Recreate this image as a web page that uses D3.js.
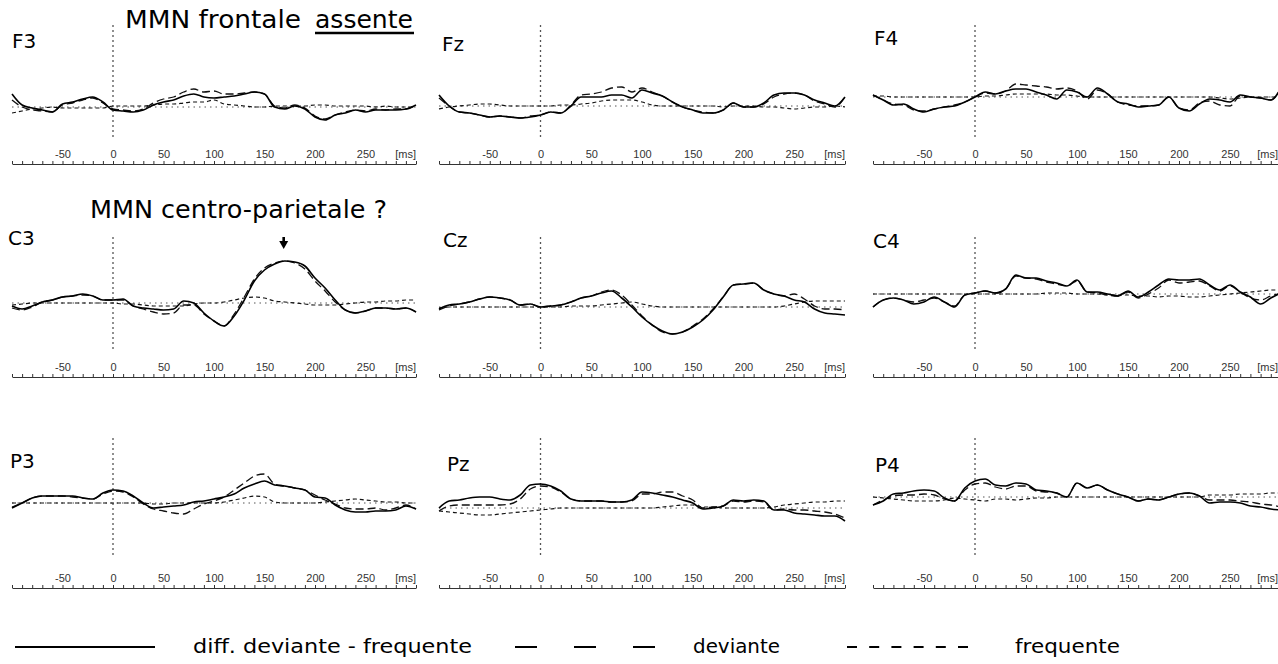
<!DOCTYPE html>
<html>
<head>
<meta charset="utf-8">
<script src="https://cdn.jsdelivr.net/npm/d3@7/dist/d3.min.js"></script>
<style>
  body { margin: 0; background: #fff; }
  .hand { font-family: "Comic Sans MS", "DejaVu Sans", sans-serif; fill: #000; }
  .axis text, .unit { font-family: "Liberation Sans", Arial, sans-serif; font-size: 11px; fill: #333; }
  .axis path, .axis line { stroke: #333; }
</style>
</head>
<body>
<svg id="chart" width="1278" height="664"></svg>
<script>
// sample times in ms
var times = [-100, -90, -80, -70, -60, -50, -40, -30, -20, -10, 0, 10, 20, 30, 40, 50, 60, 70, 80, 90, 100,
  110, 120, 130, 140, 150, 160, 170, 180, 190, 200, 210, 220, 230, 240, 250, 260, 270, 280, 290, 300];

var electrodes = ["F3", "Fz", "F4", "C3", "Cz", "C4", "P3", "Pz", "P4"];
var tickLabels = [-50, 0, 50, 100, 150, 200, 250];
var legendLabels = ["diff. deviante - frequente", "deviante", "frequente"];

// amplitudes (uV, positive up)
var f3Diff = [1.3, 0.2, -0.1, -0.3, -0.5, 0.3, 0.5, 0.8, 1.0, 0.5, -0.3, -0.4, -0.5, -0.3, 0.2, 0.5, 0.7, 1.1, 1.3, 1.0, 0.9, 1.0, 1.1, 1.3, 1.5, 1.3, 0.0, -0.2, 0.1, -0.2, -1.0, -1.3, -0.8, -0.6, -0.3, -0.5, -0.3, -0.3, -0.3, -0.2, 0.2];
var f3Dev = [0.7, 0.0, -0.3, -0.4, -0.5, 0.2, 0.4, 0.7, 0.9, 0.4, -0.2, -0.3, -0.4, -0.2, 0.4, 0.8, 1.0, 1.5, 1.8, 1.5, 1.6, 1.3, 1.3, 1.4, 1.5, 1.3, 0.1, -0.1, 0.2, -0.1, -0.9, -1.2, -0.8, -0.5, -0.3, -0.4, -0.2, -0.3, -0.2, -0.2, 0.2];
var f3Freq = [-0.6, -0.4, -0.2, -0.1, 0.0, -0.1, -0.1, -0.1, -0.1, -0.1, 0.1, 0.1, 0.1, 0.1, 0.2, 0.3, 0.3, 0.4, 0.5, 0.5, 0.7, 0.3, 0.2, 0.1, 0.0, 0.0, 0.1, 0.1, 0.1, 0.1, 0.2, 0.2, 0.1, 0.1, 0.1, 0.1, 0.0, 0.1, 0.0, 0.0, 0.0];

var fzDiff = [1.1, 0.0, -0.6, -0.7, -0.9, -1.1, -1.0, -1.1, -1.2, -1.1, -0.9, -0.6, -0.7, 0.0, 0.9, 0.9, 0.9, 1.1, 1.1, 0.8, 1.6, 1.3, 1.0, 0.4, -0.1, -0.4, -0.7, -0.7, -0.4, 0.3, -0.1, -0.1, 0.3, 1.1, 1.3, 1.3, 1.1, 0.6, 0.3, 0.0, 0.9];
var fzDev = [0.8, 0.0, -0.6, -0.7, -0.9, -1.1, -1.0, -1.1, -1.2, -1.0, -0.9, -0.6, -0.7, 0.1, 1.1, 1.2, 1.4, 1.8, 1.9, 1.4, 1.8, 1.4, 1.0, 0.4, -0.1, -0.4, -0.6, -0.7, -0.4, 0.3, -0.1, -0.1, 0.2, 0.9, 1.2, 1.3, 1.1, 0.5, 0.2, -0.1, 0.9];
var fzFreq = [-0.3, -0.1, 0.0, 0.1, 0.2, 0.2, 0.1, 0.0, 0.0, 0.0, 0.0, 0.0, 0.1, 0.1, 0.2, 0.3, 0.5, 0.6, 0.6, 0.6, 0.4, 0.1, 0.0, 0.0, 0.0, 0.0, 0.0, 0.0, -0.1, 0.0, 0.0, 0.0, -0.1, -0.1, -0.2, -0.3, -0.2, -0.1, -0.1, 0.0, -0.1];

var f4Diff = [0.2, -0.3, -0.8, -0.7, -1.2, -1.5, -1.2, -1.0, -0.9, -0.5, 0.0, 0.5, 0.3, 0.6, 0.8, 0.8, 0.5, 0.2, -0.2, 0.7, 0.5, 0.0, 0.9, 0.3, -0.5, -0.7, -1.0, -0.9, -0.8, 0.0, -1.1, -1.4, -0.7, -0.2, -0.3, -0.5, 0.2, 0.0, -0.1, -0.3, 0.9];
var f4Dev = [0.2, -0.3, -0.7, -0.8, -1.3, -1.4, -1.2, -1.0, -0.8, -0.5, 0.0, 0.4, 0.3, 0.6, 1.3, 1.2, 1.1, 1.0, 0.8, 0.9, 0.6, -0.2, 0.7, 0.3, -0.5, -0.8, -0.9, -0.9, -0.8, 0.0, -1.1, -1.3, -0.6, -0.4, -0.8, -0.9, 0.1, 0.0, -0.1, -0.3, 0.9];
var f4Freq = [0.1, 0.1, 0.0, 0.0, 0.0, 0.0, 0.0, 0.0, 0.0, 0.0, 0.0, 0.1, 0.1, 0.2, 0.3, 0.3, 0.3, 0.3, 0.2, 0.2, 0.1, 0.0, 0.0, 0.0, 0.0, 0.0, 0.0, 0.0, 0.0, 0.0, 0.0, 0.0, 0.0, 0.0, -0.1, -0.2, -0.1, 0.0, 0.0, 0.0, 0.0];

var c3Diff = [-0.3, -0.6, -0.3, 0.1, 0.3, 0.6, 0.7, 0.9, 0.7, 0.3, 0.3, 0.4, -0.3, -0.5, -0.6, -0.7, -0.6, 0.2, 0.0, -1.0, -1.8, -2.3, -1.3, 0.3, 2.2, 3.3, 3.9, 4.2, 4.1, 3.7, 2.5, 1.5, 0.3, -0.7, -1.0, -0.8, -0.5, -0.5, -0.6, -0.5, -0.9];
var c3Dev = [-0.5, -0.7, -0.4, 0.1, 0.3, 0.6, 0.7, 0.8, 0.7, 0.3, 0.3, 0.3, -0.3, -0.6, -0.9, -1.1, -1.0, -0.2, -0.2, -1.1, -1.8, -2.3, -1.1, 0.6, 2.4, 3.5, 4.0, 4.2, 4.0, 3.4, 2.2, 1.2, 0.1, -0.7, -1.0, -0.8, -0.5, -0.5, -0.6, -0.5, -0.9];
var c3Freq = [-0.2, -0.1, 0.0, 0.0, 0.0, 0.0, 0.0, 0.0, 0.0, 0.0, 0.0, -0.1, -0.1, -0.2, -0.3, -0.3, -0.3, -0.3, -0.1, 0.0, 0.0, 0.1, 0.3, 0.5, 0.6, 0.5, 0.2, 0.1, 0.0, -0.1, -0.2, -0.2, -0.2, -0.1, 0.0, 0.1, 0.1, 0.2, 0.2, 0.3, 0.3];

var czDiff = [-0.2, 0.2, 0.3, 0.5, 0.8, 1.0, 0.9, 0.7, 0.2, 0.3, 0.0, 0.1, 0.2, 0.5, 0.9, 1.1, 1.4, 1.6, 0.9, 0.0, -1.0, -1.8, -2.4, -2.7, -2.5, -2.0, -1.3, -0.3, 1.0, 2.2, 2.3, 2.4, 1.7, 1.3, 1.1, 0.7, 0.5, -0.2, -0.6, -0.7, -0.8];
var czDev = [-0.3, 0.1, 0.3, 0.5, 0.8, 1.0, 0.9, 0.7, 0.2, 0.3, 0.0, 0.1, 0.2, 0.5, 0.9, 1.1, 1.5, 1.7, 1.2, 0.2, -0.9, -1.8, -2.5, -2.7, -2.5, -1.9, -1.2, -0.2, 1.0, 2.2, 2.3, 2.4, 1.7, 1.3, 1.1, 1.3, 0.8, 0.1, -0.2, -0.2, -0.3];
var czFreq = [-0.1, 0.0, 0.0, 0.0, 0.0, 0.0, 0.0, 0.0, 0.0, 0.0, 0.0, 0.0, 0.0, 0.1, 0.1, 0.1, 0.2, 0.3, 0.4, 0.5, 0.3, 0.1, 0.0, 0.0, 0.0, 0.0, 0.0, 0.0, 0.0, 0.0, 0.0, 0.0, 0.0, 0.0, 0.1, 0.3, 0.5, 0.6, 0.6, 0.6, 0.6];

var c4Diff = [-1.3, -0.6, -0.4, -0.6, -1.0, -0.8, -0.3, -0.8, -1.3, -0.1, 0.1, 0.3, 0.1, 0.5, 1.9, 1.6, 1.6, 1.3, 1.1, 0.8, 1.4, 0.2, 0.2, 0.0, -0.2, 0.3, -0.3, 0.2, 0.9, 1.5, 1.4, 1.4, 1.5, 0.9, 0.4, 0.9, 0.2, -0.3, -1.0, -0.4, 0.1];
var c4Dev = [-1.3, -0.6, -0.4, -0.6, -0.8, -0.6, -0.4, -0.8, -1.2, -0.1, 0.1, 0.3, 0.1, 0.5, 1.8, 1.6, 1.5, 1.2, 1.0, 0.8, 1.3, 0.2, 0.1, -0.1, -0.2, 0.2, -0.4, 0.0, 0.6, 1.4, 1.1, 1.2, 1.3, 0.8, 0.3, 0.8, 0.2, -0.4, -0.6, -0.2, 0.1];
var c4Freq = [0.0, 0.0, 0.0, 0.0, 0.0, 0.0, 0.0, 0.0, 0.0, 0.0, 0.0, 0.0, 0.0, 0.0, 0.0, 0.0, 0.0, 0.1, 0.1, 0.1, 0.0, 0.0, 0.0, -0.1, -0.1, -0.1, -0.2, -0.2, -0.3, -0.2, -0.2, -0.3, -0.3, -0.2, -0.1, 0.0, 0.1, 0.2, 0.3, 0.4, 0.4];

var p3Diff = [-0.5, 0.0, 0.5, 0.7, 0.7, 0.7, 0.7, 0.5, 0.4, 1.0, 1.3, 1.2, 0.7, 0.0, -0.5, -0.4, -0.3, -0.2, 0.1, 0.2, 0.4, 0.6, 0.9, 1.5, 1.9, 2.2, 1.8, 1.7, 1.5, 1.3, 0.6, 0.5, -0.2, -0.7, -0.9, -0.9, -0.8, -0.8, -0.7, -0.3, -0.6];
var p3Dev = [-0.4, 0.0, 0.5, 0.7, 0.7, 0.7, 0.6, 0.5, 0.4, 0.9, 1.2, 1.1, 0.6, -0.1, -0.6, -0.8, -1.0, -1.1, -0.6, -0.1, 0.2, 0.6, 1.3, 2.0, 2.7, 2.9, 1.9, 1.7, 1.5, 1.3, 0.8, 0.3, -0.1, -0.5, -0.6, -0.6, -0.5, -0.7, -0.5, -0.2, -0.6];
var p3Freq = [0.0, 0.0, 0.0, 0.0, 0.0, 0.0, 0.0, 0.0, 0.0, 0.0, 0.0, 0.0, 0.0, 0.0, -0.1, -0.1, 0.0, 0.0, 0.0, 0.0, 0.0, 0.1, 0.3, 0.5, 0.7, 0.6, 0.1, 0.0, 0.0, 0.0, 0.0, 0.1, 0.2, 0.3, 0.4, 0.3, 0.2, 0.1, 0.1, 0.0, 0.0];

var pzDiff = [0.0, 0.7, 0.8, 1.0, 1.1, 1.1, 0.9, 0.8, 1.3, 2.3, 2.4, 2.2, 1.7, 0.9, 0.7, 0.7, 0.7, 0.6, 0.6, 0.8, 1.6, 1.5, 1.3, 1.1, 0.8, 0.5, -0.1, 0.0, 0.2, 0.8, 0.7, 0.8, 0.7, -0.2, -0.2, -0.5, -0.6, -0.7, -0.8, -0.8, -1.3];
var pzDev = [-0.3, 0.2, 0.3, 0.3, 0.3, 0.3, 0.3, 0.4, 0.9, 1.9, 2.2, 2.1, 1.6, 0.9, 0.7, 0.7, 0.7, 0.6, 0.6, 0.7, 1.4, 1.4, 1.6, 1.6, 1.2, 0.8, 0.0, 0.1, 0.2, 0.7, 0.6, 0.7, 0.6, -0.2, -0.1, -0.2, -0.2, -0.3, -0.4, -0.6, -1.0];
var pzFreq = [-0.3, -0.4, -0.5, -0.6, -0.7, -0.7, -0.6, -0.5, -0.4, -0.3, -0.2, -0.1, 0.0, 0.0, 0.0, 0.0, 0.0, 0.0, 0.0, 0.0, 0.0, 0.0, 0.1, 0.2, 0.3, 0.3, 0.1, 0.1, 0.0, 0.0, 0.0, 0.0, 0.0, 0.1, 0.3, 0.4, 0.5, 0.6, 0.6, 0.7, 0.7];

var p4Diff = [-0.8, -0.4, 0.3, 0.4, 0.6, 0.7, 0.6, -0.1, -0.4, 0.9, 1.6, 1.8, 1.2, 1.1, 1.4, 1.3, 0.7, 0.6, 0.4, 0.0, 1.4, 0.9, 1.2, 0.7, 0.3, 0.0, -0.4, -0.2, -0.3, 0.0, 0.3, 0.4, 0.1, -0.6, -0.5, -0.5, -0.6, -0.9, -1.0, -1.2, -1.3];
var p4Dev = [-0.8, -0.3, 0.1, 0.2, 0.2, 0.3, 0.2, -0.2, -0.4, 0.7, 1.3, 1.4, 1.0, 0.8, 1.1, 1.1, 0.6, 0.5, 0.4, 0.0, 1.4, 0.9, 1.2, 0.7, 0.3, 0.0, -0.4, -0.2, -0.3, 0.0, 0.3, 0.4, 0.1, -0.3, -0.3, -0.3, -0.4, -0.5, -0.7, -0.8, -1.0];
var p4Freq = [0.0, -0.1, -0.2, -0.3, -0.4, -0.4, -0.4, -0.3, -0.1, -0.2, -0.3, -0.4, -0.2, -0.2, -0.3, -0.2, -0.1, -0.1, 0.0, 0.0, 0.0, 0.0, 0.0, 0.0, 0.0, 0.0, 0.0, 0.0, 0.0, 0.0, 0.0, 0.0, 0.0, 0.2, 0.2, 0.2, 0.3, 0.3, 0.3, 0.4, 0.4];

var diffSeries = [f3Diff, fzDiff, f4Diff, c3Diff, czDiff, c4Diff, p3Diff, pzDiff, p4Diff];
var devSeries = [f3Dev, fzDev, f4Dev, c3Dev, czDev, c4Dev, p3Dev, pzDev, p4Dev];
var freqSeries = [f3Freq, fzFreq, f4Freq, c3Freq, czFreq, c4Freq, p3Freq, pzFreq, p4Freq];

// layout (pixels)
var colRange = [[12, 416], [439, 845], [873, 1281]];
var rowAxisY = [164, 377, 588];
var rowZeroLine = [[25, 140], [237, 352], [438, 555]];
var baseY = [107, 106, 97, 303, 307, 294, 503, 508, 497];
var labelPos = [[12, 48], [442, 51], [874, 45], [8, 245], [443, 247], [873, 248], [10, 468], [447, 471], [875, 472]];
var pxPerUv = 10;

var svg = d3.select("#chart");
svg.append("rect").attr("width", 1278).attr("height", 664).attr("fill", "#fff");

var minorTicks = d3.range(-100, 301, 10);

electrodes.forEach(function (name, i) {
  var col = i % 3, row = Math.floor(i / 3);
  var x = d3.scaleLinear().domain([-100, 300]).range(colRange[col]);
  var y = d3.scaleLinear().domain([-5, 5]).range([baseY[i] + 5 * pxPerUv, baseY[i] - 5 * pxPerUv]);
  var g = svg.append("g").attr("class", "panel");

  // zero baseline + stimulus onset
  g.append("line")
    .attr("x1", x(-100)).attr("x2", x(300))
    .attr("y1", y(0)).attr("y2", y(0))
    .attr("stroke", "#555").attr("stroke-width", 1).attr("stroke-dasharray", "1.5,4");
  g.append("line")
    .attr("x1", x(0)).attr("x2", x(0))
    .attr("y1", rowZeroLine[row][0]).attr("y2", rowZeroLine[row][1])
    .attr("stroke", "#555").attr("stroke-width", 1.3).attr("stroke-dasharray", "2,3");

  var line = d3.line()
    .x(function (d, k) { return x(times[k]); })
    .y(function (d) { return y(d); })
    .curve(d3.curveMonotoneX);

  g.append("path").attr("d", line(freqSeries[i]))
    .attr("fill", "none").attr("stroke", "#111").attr("stroke-width", 1.2)
    .attr("stroke-dasharray", "4,3");
  g.append("path").attr("d", line(devSeries[i]))
    .attr("fill", "none").attr("stroke", "#111").attr("stroke-width", 1.3)
    .attr("stroke-dasharray", "8,4");
  g.append("path").attr("d", line(diffSeries[i]))
    .attr("fill", "none").attr("stroke", "#000").attr("stroke-width", 1.6);

  // time axis
  var axis = d3.axisTop(x)
    .tickValues(minorTicks)
    .tickSize(3)
    .tickSizeOuter(0)
    .tickPadding(3)
    .tickFormat(function (d) { return tickLabels.indexOf(d) >= 0 ? String(d) : ""; });
  var ax = g.append("g").attr("class", "axis")
    .attr("transform", "translate(0," + rowAxisY[row] + ")")
    .call(axis);
  ax.selectAll("text").attr("font-family", null).attr("font-size", null);
  g.append("text").attr("class", "unit")
    .attr("x", colRange[col][1] - (col == 2 ? 3 : 0)).attr("y", rowAxisY[row] - 6)
    .attr("text-anchor", "end")
    .text("[ms]");

  g.append("text").attr("class", "hand")
    .attr("x", labelPos[i][0]).attr("y", labelPos[i][1])
    .attr("font-size", 20)
    .text(name);
});

// annotations
svg.append("text").attr("class", "hand")
  .attr("x", 125).attr("y", 28).attr("font-size", 24)
  .attr("textLength", 176).attr("lengthAdjust", "spacingAndGlyphs")
  .text("MMN frontale");
svg.append("text").attr("class", "hand")
  .attr("x", 315).attr("y", 28).attr("font-size", 24)
  .attr("textLength", 98).attr("lengthAdjust", "spacingAndGlyphs")
  .text("assente");
svg.append("line")
  .attr("x1", 315).attr("x2", 414).attr("y1", 33).attr("y2", 33)
  .attr("stroke", "#000").attr("stroke-width", 2.5);

svg.append("text").attr("class", "hand")
  .attr("x", 90).attr("y", 218).attr("font-size", 24)
  .attr("textLength", 297).attr("lengthAdjust", "spacingAndGlyphs")
  .text("MMN centro-parietale ?");

var arrowX = d3.scaleLinear().domain([-100, 300]).range(colRange[0])(169);
svg.append("path")
  .attr("d", "M" + (arrowX - 1.3) + ",237 V241 H" + (arrowX - 4.5) + " L" + arrowX + ",249 L" + (arrowX + 4.5) + ",241 H" + (arrowX + 1.3) + " V237 Z")
  .attr("fill", "#000");

// legend
var legendY = 647;
var legendItems = [
  { x1: 15, x2: 155, dash: null, tx: 193, tw: 279 },
  { x1: 515, x2: 655, dash: "22,37", tx: 693, tw: 87 },
  { x1: 847, x2: 968, dash: "10,12.2", tx: 1015, tw: 105 }
];
legendItems.forEach(function (it, i) {
  svg.append("line")
    .attr("x1", it.x1).attr("x2", it.x2).attr("y1", legendY).attr("y2", legendY)
    .attr("stroke", "#000").attr("stroke-width", 2.2)
    .attr("stroke-dasharray", it.dash);
  svg.append("text").attr("class", "hand")
    .attr("x", it.tx).attr("y", legendY + 6).attr("font-size", 19)
    .attr("textLength", it.tw).attr("lengthAdjust", "spacingAndGlyphs")
    .text(legendLabels[i]);
});
</script>
</body>
</html>
